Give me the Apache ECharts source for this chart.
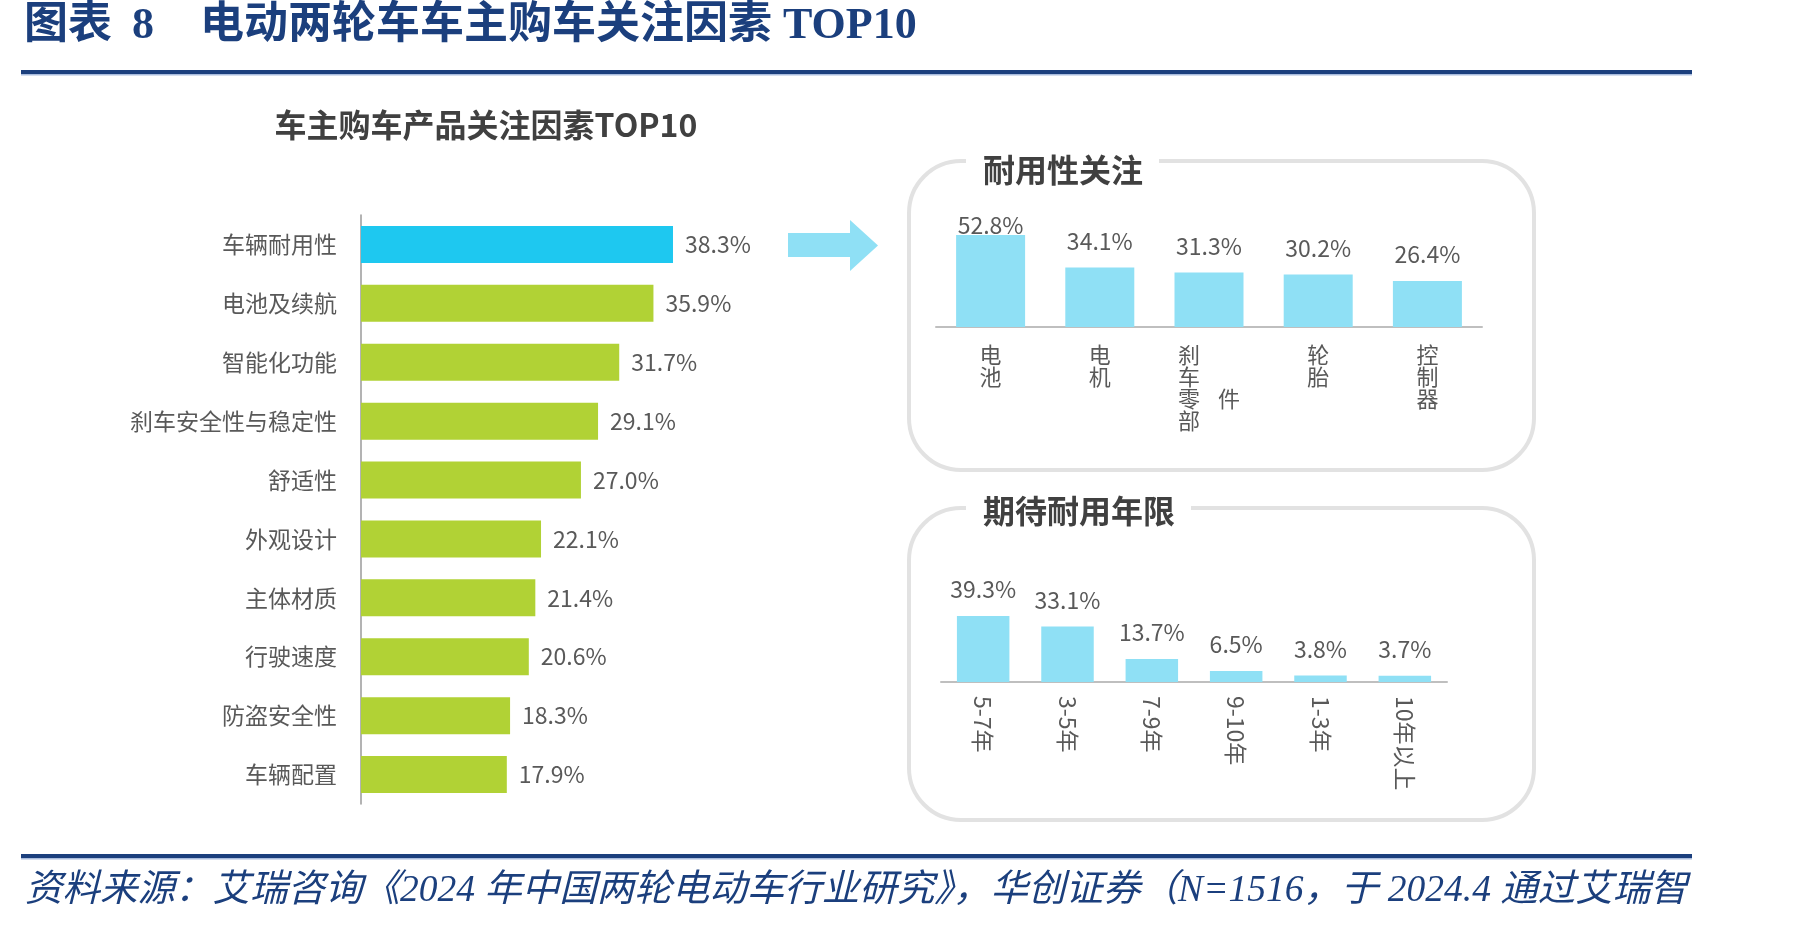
<!DOCTYPE html>
<html>
<head>
<meta charset="utf-8">
<script src="https://cdn.jsdelivr.net/npm/echarts@6/dist/echarts.min.js"></script>
<style>
html,body{margin:0;padding:0;background:#fff;}
#chart{width:1801px;height:925px;}
</style>
</head>
<body>
<div id="chart"></div>
<script>
// ---- data ----
const leftCategories = ['车辆耐用性','电池及续航','智能化功能','刹车安全性与稳定性','舒适性','外观设计','主体材质','行驶速度','防盗安全性','车辆配置'];
const leftValues = [38.3,35.9,31.7,29.1,27.0,22.1,21.4,20.6,18.3,17.9];
const durCategories = ['电池','电机','刹车零部件','轮胎','控制器'];
const durValues = [52.8,34.1,31.3,30.2,26.4];
const yearCategories = ['5-7年','3-5年','7-9年','9-10年','1-3年','10年以上'];
const yearValues = [39.3,33.1,13.7,6.5,3.8,3.7];

const mainTitleA = '图表';
const mainTitleB = '8';
const mainTitle = '电动两轮车车主购车关注因素 TOP10';
const leftTitle = '车主购车产品关注因素TOP10';
const panel1Title = '耐用性关注';
const panel2Title = '期待耐用年限';
const footer = '资料来源：艾瑞咨询《2024 年中国两轮电动车行业研究》，华创证券（N=1516，于 2024.4 通过艾瑞智';

// ---- styles ----
const FONT = '"Noto Sans CJK SC", "Noto Sans", sans-serif';
const SERIF = '"Liberation Serif", "Noto Sans CJK SC", serif';
const NAVY = '#1B3F7D';
const GRAY = '#595959';
const CYAN = '#8FE0F5';
const pct = p => p.value.toFixed(1) + '%';

const chart = echarts.init(document.getElementById('chart'), null, {renderer: 'canvas'});

const durLabel = function (name) {
  if (name.length > 4) {
    const chars = name.split('');
    const last = chars.pop();
    return chars.map((c, i) => '{a|' + c + '}{b|' + (i === 2 ? last : '　') + '}').join('\n');
  }
  return name.split('').join('\n');
};

const option = {
  backgroundColor: '#ffffff',
  animation: false,
  grid: [
    {left: 361, top: 215, width: 407.3, height: 589},
    {left: 936, top: 222.5, width: 546, height: 104.5},
    {left: 941, top: 598, width: 506, height: 84}
  ],
  xAxis: [
    {gridIndex: 0, type: 'value', min: 0, max: 50, show: false},
    {gridIndex: 1, type: 'category', data: durCategories,
      axisLine: {lineStyle: {color: '#BFBFBF', width: 2}}, axisTick: {show: false},
      axisLabel: {interval: 0, margin: 17, fontFamily: FONT, fontSize: 22, color: GRAY, lineHeight: 22,
        formatter: durLabel,
        rich: {
          a: {width: 40, align: 'center', fontFamily: FONT, fontSize: 22, color: GRAY, lineHeight: 22},
          b: {width: 40, align: 'center', fontFamily: FONT, fontSize: 22, color: GRAY, lineHeight: 22}
        }}},
    {gridIndex: 2, type: 'category', data: yearCategories,
      axisLine: {lineStyle: {color: '#BFBFBF', width: 2}}, axisTick: {show: false},
      axisLabel: {interval: 0, rotate: -90, margin: 14, fontFamily: FONT, fontSize: 23, color: GRAY}}
  ],
  yAxis: [
    {gridIndex: 0, type: 'category', data: leftCategories, inverse: true,
      axisLine: {lineStyle: {color: '#9A9A9A', width: 1.5}}, axisTick: {show: false},
      axisLabel: {margin: 24, fontFamily: FONT, fontSize: 23, color: GRAY}},
    {gridIndex: 1, type: 'value', min: 0, max: 60, show: false},
    {gridIndex: 2, type: 'value', min: 0, max: 50, show: false}
  ],
  series: [
    {type: 'bar', xAxisIndex: 0, yAxisIndex: 0, barWidth: 37,
      data: leftValues.map((v, i) => ({value: v, itemStyle: {color: i === 0 ? '#1EC8F0' : '#B1D235'}})),
      label: {show: true, position: 'right', distance: 12, fontFamily: FONT, fontSize: 23, color: GRAY, formatter: pct}},
    {type: 'bar', xAxisIndex: 1, yAxisIndex: 1, barWidth: 69, itemStyle: {color: CYAN},
      data: durValues.map((v, i) => i === 0 ? {value: v, label: {distance: -2}} : v),
      label: {show: true, position: 'top', distance: 15, fontFamily: FONT, fontSize: 23, color: GRAY, formatter: pct}},
    {type: 'bar', xAxisIndex: 2, yAxisIndex: 2, barWidth: 52.5, itemStyle: {color: CYAN},
      data: yearValues,
      label: {show: true, position: 'top', distance: 15, fontFamily: FONT, fontSize: 23, color: GRAY, formatter: pct}}
  ],
  graphic: [
    {type: 'rect', shape: {x: 21, y: 70, width: 1671, height: 4}, style: {fill: NAVY}},
    {type: 'rect', shape: {x: 21, y: 74, width: 1671, height: 1.5}, style: {fill: '#A9BCDD'}},
    {type: 'rect', shape: {x: 21, y: 854, width: 1671, height: 4}, style: {fill: NAVY}},
    {type: 'rect', shape: {x: 21, y: 858, width: 1671, height: 1.5}, style: {fill: '#A9BCDD'}},
    {type: 'text', x: 24, y: 27, style: {text: mainTitleA, font: 'bold 44px ' + SERIF, fill: NAVY, verticalAlign: 'middle'}},
    {type: 'text', x: 132, y: 27, style: {text: mainTitleB, font: 'bold 44px ' + SERIF, fill: NAVY, verticalAlign: 'middle'}},
    {type: 'text', x: 200, y: 27, style: {text: mainTitle, font: 'bold 44px ' + SERIF, fill: NAVY, verticalAlign: 'middle'}},
    {type: 'text', x: 25, y: 891, style: {text: footer, font: 'italic 37.5px ' + SERIF, fill: NAVY, verticalAlign: 'middle'}},
    {type: 'text', x: 486, y: 125, style: {text: leftTitle, font: 'bold 32px ' + FONT, fill: '#404040', align: 'center', verticalAlign: 'middle'}},
    {type: 'polygon', shape: {points: [[788,233],[850,233],[850,220],[878,245.5],[850,271],[850,257],[788,257]]}, style: {fill: CYAN}},
    {type: 'rect', shape: {x: 909, y: 161, width: 625, height: 309, r: 52}, style: {fill: 'none', stroke: '#E2E2E2', lineWidth: 4}},
    {type: 'rect', shape: {x: 909, y: 508, width: 625, height: 312, r: 52}, style: {fill: 'none', stroke: '#E2E2E2', lineWidth: 4}},
    {type: 'rect', z: 10, shape: {x: 966, y: 150, width: 193, height: 22}, style: {fill: '#fff'}},
    {type: 'rect', z: 10, shape: {x: 966, y: 497, width: 225, height: 22}, style: {fill: '#fff'}},
    {type: 'text', z: 11, x: 983, y: 170, style: {text: panel1Title, font: 'bold 32px ' + FONT, fill: '#404040', verticalAlign: 'middle'}},
    {type: 'text', z: 11, x: 983, y: 511, style: {text: panel2Title, font: 'bold 32px ' + FONT, fill: '#404040', verticalAlign: 'middle'}}
  ]
};
chart.setOption(option);
</script>
</body>
</html>
